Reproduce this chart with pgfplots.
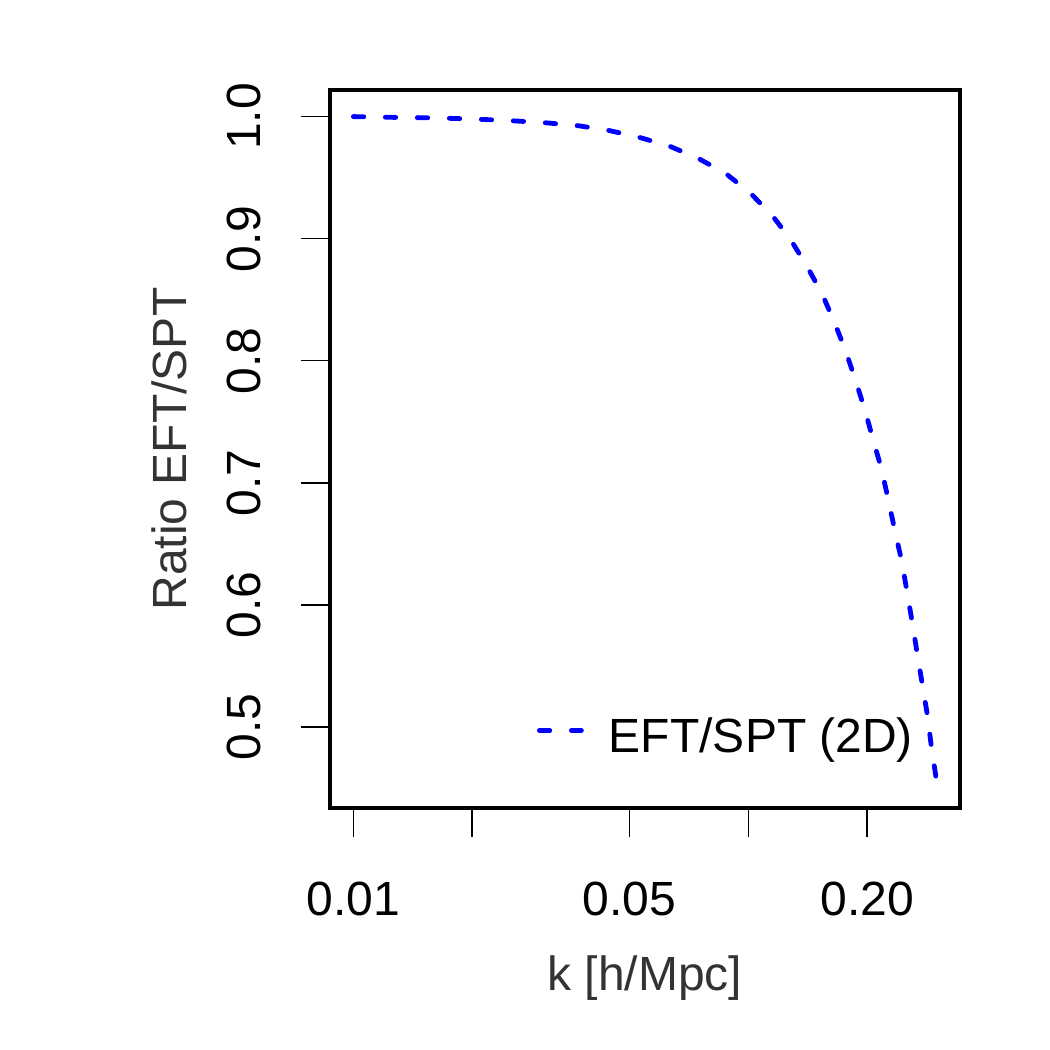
\documentclass[border=0pt]{standalone}
\usepackage{fontspec}
\setmainfont{Liberation Sans}
\usepackage{pgfplots}
\pgfplotsset{compat=1.18}
\definecolor{labgray}{HTML}{333333}
\pgfplotstableread{
k r
0.0100 1.0000
0.0125 0.9994
0.0150 0.9991
0.0180 0.9985
0.0216 0.9976
0.0259 0.9964
0.0311 0.9948
0.0372 0.9925
0.0446 0.9885
0.0530 0.9830
0.0633 0.9757
0.0747 0.9658
0.0878 0.9533
0.1012 0.9374
0.1150 0.9191
0.1284 0.8986
0.1409 0.8773
0.1538 0.8549
0.1654 0.8314
0.1768 0.8074
0.1874 0.7830
0.1975 0.7597
0.2072 0.7351
0.2176 0.7113
0.2261 0.6867
0.2350 0.6613
0.2444 0.6367
0.2525 0.6108
0.2605 0.5848
0.2683 0.5588
0.2762 0.5343
0.2843 0.5097
0.2910 0.4838
0.3000 0.4554
}\ratio
\begin{document}
\begin{tikzpicture}
\begin{axis}[
 name=ax,
 scale only axis, width=315pt, height=359pt,
 xmode=log, xmin=0.008727, xmax=0.3438, ymin=0.4336, ymax=1.0218,
 axis line style={line width=1.6pt},
 tick align=outside, tick pos=left,
 major tick length=14.5pt,
 tick style={line width=0.7pt, black},
 xminorticks=false, yminorticks=false,
 xtick={0.01,0.02,0.05,0.1,0.2}, xticklabels={0.01,,0.05,,0.20},
 ytick={0.5,0.6,0.7,0.8,0.9,1.0}, yticklabels={0.5,0.6,0.7,0.8,0.9,1.0},
 /pgf/number format/assume math mode=true,
 ticklabel style={font=\fontsize{24}{28}\selectfont, inner sep=0pt},
 xticklabel style={anchor=north},
 yticklabel style={rotate=90, anchor=south},
 xticklabel shift=22.5pt, yticklabel shift=20pt,
 xlabel={k [h/Mpc]}, ylabel={Ratio EFT/SPT},
 label style={font=\fontsize{24}{28}\selectfont, text=labgray, inner sep=0pt},
 xlabel style={at={(axis description cs:0.5,-0.2535)}, anchor=base},
 ylabel style={at={(axis description cs:-0.227,0.5)}, anchor=base},
 legend cell align=left,
 legend style={draw=none, fill=none, inner sep=0pt, outer sep=0pt,
   font=\fontsize{24}{28}\selectfont, nodes={inner sep=0pt},
   at={(axis description cs:0.9254,0.0989)}, anchor=east},
 legend image code/.code={\draw[#1] (1.2pt,3.3pt) -- (22.2pt,3.3pt); \path[draw=none,fill=none] (0pt,0pt) rectangle (36pt,0.1pt);},
]
\addplot[color={rgb,1:red,0;green,0;blue,1}, line width=2.4pt, line cap=round, dash pattern=on 5.2pt off 10.8pt] table[x=k,y=r] {\ratio};
\addlegendentry{EFT/SPT (2D)}
\end{axis}
\path ([shift={(-165pt,-121pt)}]ax.south west) rectangle ([shift={(45pt,45pt)}]ax.north east);
\end{tikzpicture}
\end{document}
